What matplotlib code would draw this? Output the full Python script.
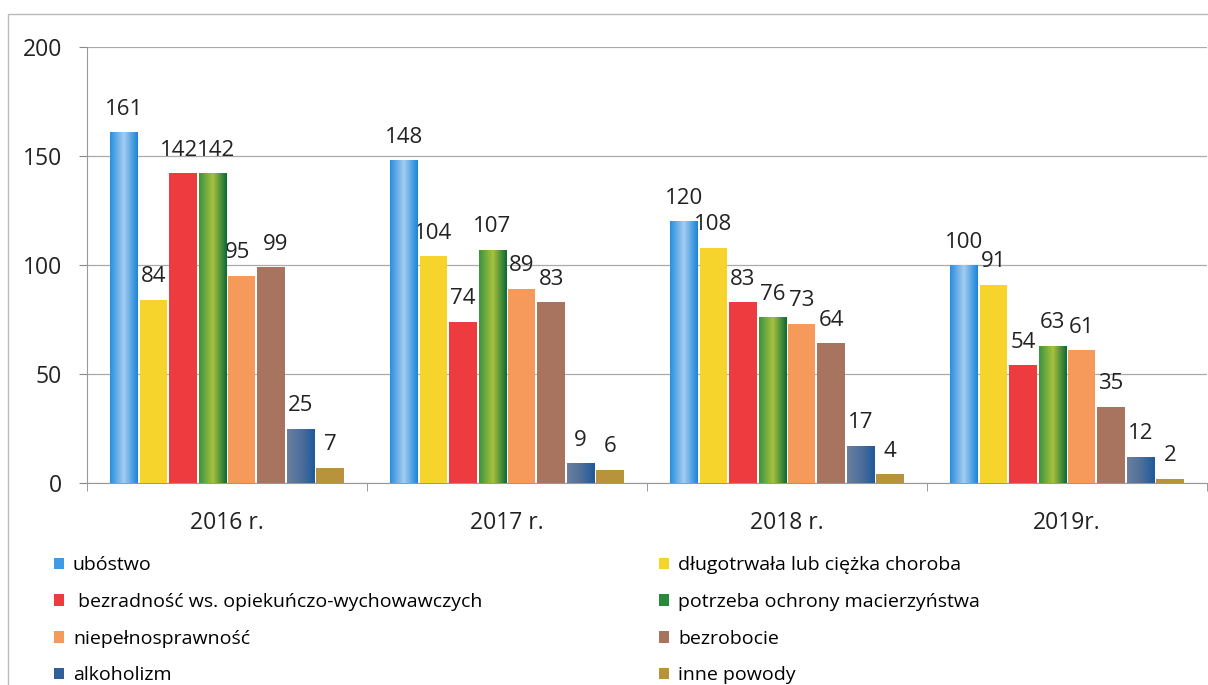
import matplotlib.pyplot as plt
from matplotlib.colors import LinearSegmentedColormap
import numpy as np

# values
years = ['2016 r.', '2017 r.', '2018 r.', '2019r.']
categories = [
    'ubóstwo',
    'długotrwała lub ciężka choroba',
    ' bezradność ws. opiekuńczo-wychowawczych',
    'potrzeba ochrony macierzyństwa',
    'niepełnosprawność',
    'bezrobocie',
    'alkoholizm',
    'inne powody',
]
ubostwo = [161, 148, 120, 100]
choroba = [84, 104, 108, 91]
bezradnosc = [142, 74, 83, 54]
macierzynstwo = [142, 107, 76, 63]
niepelnosprawnosc = [95, 89, 73, 61]
bezrobocie = [99, 83, 64, 35]
alkoholizm = [25, 9, 17, 12]
inne = [7, 6, 4, 2]
series = [ubostwo, choroba, bezradnosc, macierzynstwo,
          niepelnosprawnosc, bezrobocie, alkoholizm, inne]
colors = ['#3f9be3', '#f6d42c', '#ee3b3f', '#2a8a3c',
          '#f59a5b', '#a87460', '#335f98', '#b8933c']
# horizontal shading of some bars (left -> middle -> right)
gradients = {
    0: ['#2a8fe0', '#a4cdf0', '#1b84da'],
    3: ['#3a9440', '#a9c23e', '#0b6b35'],
    6: ['#6a7f9e', '#4f6f9a', '#1d5a9a'],
}
# small sideways nudges (points) for labels that touch in 2016
nudge = {(2, 0): -3, (3, 0): 3, (4, 0): -3, (5, 0): 3}

plt.rcParams['font.family'] = ['Open Sans', 'DejaVu Sans']

fig = plt.figure(figsize=(12.08, 6.85), dpi=100)
# faint outer frame of the scanned chart
fig.patches.append(plt.Rectangle((8 / 1208, -0.1), 1.1, 1 - 14 / 685 + 0.1,
                                 transform=fig.transFigure, fill=False,
                                 edgecolor='#bbbbbb', linewidth=1))
ax = fig.add_axes([87 / 1208, 1 - 483 / 685, 1 - 88 / 1208, 436 / 685])

x = np.arange(len(years))
pitch = 0.105
width = 0.098
for i, (vals, c) in enumerate(zip(series, colors)):
    pos = x + (i - 3.5) * pitch
    bars = ax.bar(pos, vals, width, color=c, label=categories[i], zorder=3)
    for j, (b, v) in enumerate(zip(bars, vals)):
        if i in gradients:
            cmap = LinearSegmentedColormap.from_list('g%d' % i, gradients[i])
            x0 = b.get_x()
            im = ax.imshow(np.linspace(0, 1, 64).reshape(1, -1), cmap=cmap,
                           extent=(x0, x0 + b.get_width(), 0, v),
                           aspect='auto', zorder=3.5, interpolation='bilinear')
            im.set_clip_path(b)
        ax.annotate(str(v), (b.get_x() + b.get_width() / 2, v),
                    xytext=(nudge.get((i, j), 0), 9), textcoords='offset points',
                    ha='center', va='bottom', fontsize=16, color='#222222')

ax.set_ylim(0, 200)
ax.set_yticks([0, 50, 100, 150, 200])
ax.set_xlim(-0.5, 3.5)
ax.set_xticks(x)
ax.set_xticklabels(years)
ax.set_xticks(np.arange(-0.5, 4.0, 1), minor=True)
ax.tick_params(axis='x', which='major', length=0, pad=20, labelsize=16.5, colors='#222222')
ax.tick_params(axis='x', which='minor', length=6, color='#888888')
ax.tick_params(axis='y', length=6, color='#888888', labelsize=16.5, colors='#222222', pad=12)
ax.grid(axis='y', color='#aaaaaa', linewidth=0.9, zorder=0)
for s in ['top', 'right']:
    ax.spines[s].set_visible(False)
ax.spines['left'].set_color('#999999')
ax.spines['bottom'].set_color('#999999')

handles, labels = ax.get_legend_handles_labels()
left_idx = [0, 2, 4, 6]
right_idx = [1, 3, 5, 7]
common = dict(frameon=False, fontsize=14, handlelength=0.55, handleheight=0.55,
              handletextpad=0.45, labelspacing=0.96, loc='upper left')
fig.legend([handles[i] for i in left_idx], [labels[i] for i in left_idx],
           bbox_to_anchor=(36 / 1208, 1 - 539 / 685), **common)
fig.legend([handles[i] for i in right_idx], [labels[i] for i in right_idx],
           bbox_to_anchor=(641 / 1208, 1 - 539 / 685), **common)

fig.savefig('out.png', dpi=100)
